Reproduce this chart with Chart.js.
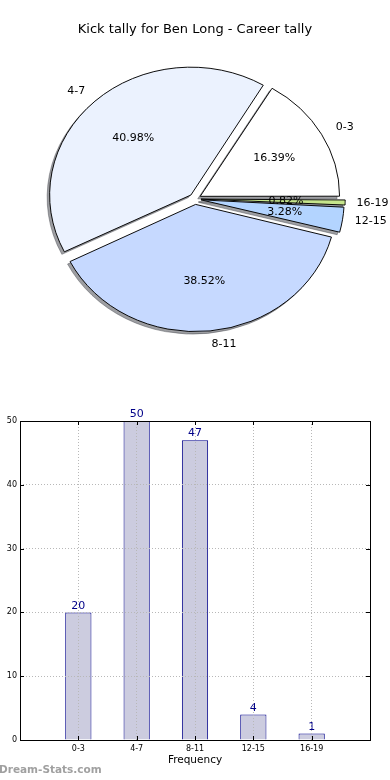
<!DOCTYPE html>
<html>
<head>
<meta charset="utf-8">
<script src="https://cdn.jsdelivr.net/npm/chart.js@4/dist/chart.umd.min.js"></script>
<style>
  body{margin:0;background:#fff;width:390px;height:780px;overflow:hidden;position:relative}
  .box{position:absolute;left:0;width:390px}
  #pieBox{top:0;height:400px}
  #barBox{top:400px;height:380px}
</style>
</head>
<body>
<div class="box" id="pieBox"><canvas id="pie" width="390" height="400"></canvas></div>
<div class="box" id="barBox"><canvas id="bar" width="390" height="380"></canvas></div>
<script>
// data
const categories = ['0-3', '4-7', '8-11', '12-15', '16-19']
const counts = [20, 50, 47, 4, 1]
const sliceColors = ['#ffffff', '#ebf2fe', '#c6d9ff', '#b3d4ff', '#c6e58c']
const yTicks = [0, 10, 20, 30, 40, 50]
const chartTitle = 'Kick tally for Ben Long - Career tally'
const axisTitle = 'Frequency'
const watermark = 'Dream-Stats.com'

const FONT = '"DejaVu Sans", Verdana, sans-serif'
const total = counts.reduce((a,b)=>a+b, 0)
const squash = 0.905   // pie is drawn as an ellipse in the original
const explode = 6      // px

// matplotlib goes counter-clockwise from 3 o'clock, chart.js clockwise -> reverse
const pieLabels = categories.slice().reverse()
const pieValues = counts.slice().reverse()
const pieColors = sliceColors.slice().reverse()

const piePlugin = {
  id:'pieExtras',
  beforeDatasetsDraw(chart){
    const ctx = chart.ctx
    const arcs = chart.getDatasetMeta(0).data
    const cx = arcs[0].x, cy = arcs[0].y
    ctx.save()
    ctx.translate(cx, cy); ctx.scale(1, squash); ctx.translate(-cx, -cy)
    // shadows under every wedge
    ctx.save()
    ctx.translate(-2.5, 2.8)
    arcs.forEach(a=>{
      const s = Object.create(a)
      s.options = Object.assign({}, a.options, {backgroundColor:'rgba(60,62,70,0.5)', borderColor:'rgba(60,62,70,0.45)'})
      s.draw(ctx)
    })
    ctx.restore()
  },
  afterDatasetsDraw(chart){
    const ctx = chart.ctx
    ctx.restore()
    const arcs = chart.getDatasetMeta(0).data
    ctx.save()
    ctx.fillStyle = '#000'
    ctx.font = '11px ' + FONT
    ctx.textBaseline = 'middle'
    arcs.forEach((a, i)=>{
      const mid = (a.startAngle + a.endAngle) / 2
      const off = explode
      const r = a.outerRadius + 3
      const c = Math.cos(mid), s = Math.sin(mid)
      // outer label
      const lx = a.x + c*(off + 1.1*r), ly = a.y + s*(off + 1.1*r)*squash
      ctx.textAlign = c > 0 ? 'left' : 'right'
      ctx.fillText(pieLabels[i], lx, ly)
      // percentage
      const px = a.x + c*(off + 0.6*r), py = a.y + s*(off + 0.6*r)*squash
      ctx.textAlign = 'center'
      ctx.fillText((pieValues[i]/total*100).toFixed(2) + '%', px, py)
    })
    ctx.restore()
  }
}

new Chart(document.getElementById('pie'), {
  type:'pie',
  data:{
    labels:pieLabels,
    datasets:[{
      data:pieValues,
      backgroundColor:pieColors,
      borderColor:'#000',
      borderWidth:1,
      offset:explode*4,
      clip:false
    }]
  },
  options:{
    responsive:false,
    animation:false,
    events:[],
    rotation:90,
    radius:138.5,
    layout:{padding:{top:0, bottom:62, left:0, right:0}},
    plugins:{
      legend:{display:false},
      tooltip:{enabled:false},
      title:{display:true, text:chartTitle, color:'#000', font:{family:FONT, size:13, weight:'normal'}, padding:{top:22, bottom:22.4}}
    }
  },
  plugins:[piePlugin]
})

const barPlugin = {
  id:'barExtras',
  afterDatasetsDraw(chart){
    const ctx = chart.ctx
    const bars = chart.getDatasetMeta(0).data
    ctx.save()
    ctx.fillStyle = '#000088'
    ctx.font = '11px ' + FONT
    ctx.textAlign = 'center'
    ctx.textBaseline = 'bottom'
    bars.forEach((b, i)=>{ ctx.fillText(String(counts[i]), b.x, b.y - 1) })
    ctx.restore()
  },
  afterDraw(chart){
    const ctx = chart.ctx
    const a = chart.chartArea
    ctx.save()
    ctx.strokeStyle = '#000'
    ctx.lineWidth = 1
    // inward tick marks
    const xs = chart.scales.x, ys = chart.scales.y
    ctx.beginPath()
    categories.forEach((c, i)=>{
      const x = Math.round(xs.getPixelForValue(i)) + 0.5
      ctx.moveTo(x, a.bottom); ctx.lineTo(x, a.bottom - 4)
      ctx.moveTo(x, a.top); ctx.lineTo(x, a.top + 4)
    })
    yTicks.forEach(v=>{
      const y = Math.round(ys.getPixelForValue(v)) + 0.5
      ctx.moveTo(a.left, y); ctx.lineTo(a.left + 4, y)
      ctx.moveTo(a.right, y); ctx.lineTo(a.right - 4, y)
    })
    ctx.stroke()
    ctx.strokeRect(Math.round(a.left) + 0.5, Math.round(a.top) + 0.5, Math.round(a.right - a.left), Math.round(a.bottom - a.top))
    ctx.fillStyle = '#a0a0a0'
    ctx.font = 'bold 10.5px ' + FONT
    ctx.textAlign = 'left'
    ctx.textBaseline = 'middle'
    ctx.fillText(watermark, -1, 370)
    ctx.restore()
  }
}

new Chart(document.getElementById('bar'), {
  type:'bar',
  data:{
    datasets:[{
      data:counts.map((v, i)=>({x:i, y:v})),
      backgroundColor:'#ccccdf',
      borderColor:'#00008b',
      borderWidth:1,
      barPercentage:0.45,
      categoryPercentage:1
    }]
  },
  options:{
    responsive:false,
    animation:false,
    events:[],
    layout:{padding:{top:21, right:20, left:0, bottom:0}},
    plugins:{legend:{display:false}, tooltip:{enabled:false}},
    scales:{
      x:{
        type:'linear', min:-1, max:5, offset:false,
        afterFit(s){ s.height = 40 },
        grid:{color:'#b8b8b8', drawTicks:false, offset:false, z:1},
        border:{display:false, dash:[1,2]},
        ticks:{stepSize:1, padding:4, color:'#000', font:{family:FONT, size:8},
          callback:v=>categories[v] || ''},
        title:{display:true, text:axisTitle, color:'#000', font:{family:FONT, size:10.5}, padding:{top:0, bottom:13.7}}
      },
      y:{
        min:0, max:50,
        afterFit(s){ s.width = 20 },
        grid:{color:'#b8b8b8', drawTicks:false, z:1},
        border:{display:false, dash:[1,2]},
        afterBuildTicks(s){ s.ticks = yTicks.map(v=>({value:v})) },
        ticks:{padding:3, color:'#000', font:{family:FONT, size:8}}
      }
    }
  },
  plugins:[barPlugin]
})
</script>
</body>
</html>
